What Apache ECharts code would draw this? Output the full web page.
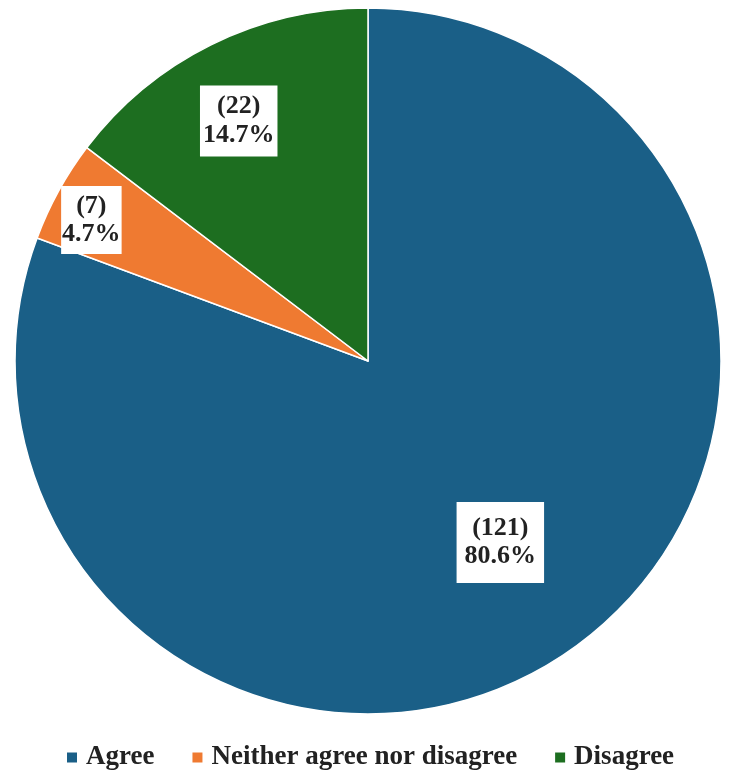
<!DOCTYPE html>
<html>
<head>
<meta charset="utf-8">
<script src="https://cdn.jsdelivr.net/npm/echarts@6/dist/echarts.min.js"></script>
<style>
html,body{margin:0;padding:0;background:#fff;}
#main{width:734px;height:774px;}
</style>
</head>
<body>
<div id="main"></div>
<script>
const categories = ['Agree', 'Neither agree nor disagree', 'Disagree'];
const counts = [121, 7, 22];
const percentLabels = ['80.6%', '4.7%', '14.7%'];
const colors = ['#1a5f87', '#ef7a31', '#1d6e20'];
const labelRadiusFrac = [0.628, 0.871, 0.764];
const labelAngleShift = [-1.3, -1.82, -1.92];
const labelPadding = [[13, 8, 12, 8], [12, 1, 0, 1], [13, 3, 0, 3]];
const labelLineHeight = [28, 28, 29];

const total = counts.reduce((a, b) => a + b, 0);
const midAngles = [];
let acc = 0;
counts.forEach(v => { const a = v / total * 360; midAngles.push(acc + a / 2); acc += a; });

const R = 353;
const chart = echarts.init(document.getElementById('main'), null, {renderer: 'canvas'});
chart.setOption({
  animation: false,
  color: colors,
  legend: {
    top: 739,
    left: 60,
    icon: 'rect',
    itemWidth: 12,
    itemHeight: 12,
    itemGap: 36,
    textStyle: {
      fontFamily: 'Liberation Serif',
      fontWeight: 'bold',
      fontSize: 27,
      color: '#222',
      padding: [0, 0, 0, 3]
    },
    data: categories
  },
  series: [{
    type: 'pie',
    center: [368, 361],
    radius: [0, R],
    startAngle: 90,
    clockwise: true,
    itemStyle: { borderColor: '#fff', borderWidth: 1.5 },
    label: {
      show: true,
      position: 'inside',
      fontFamily: 'Liberation Serif',
      fontWeight: 'bold',
      fontSize: 26,
      color: '#222',
      backgroundColor: '#fff',
      formatter: p => '(' + counts[p.dataIndex] + ')\n' + percentLabels[p.dataIndex]
    },
    labelLine: { show: false },
    labelLayout: function (params) {
      const i = params.dataIndex;
      const base = midAngles[i] * Math.PI / 180;
      const th = (midAngles[i] + labelAngleShift[i]) * Math.PI / 180;
      const h = 0.5 * R, d = labelRadiusFrac[i] * R;
      return {
        dx: d * Math.sin(th) - h * Math.sin(base),
        dy: -d * Math.cos(th) + h * Math.cos(base)
      };
    },
    data: categories.map((c, i) => ({
      name: c,
      value: counts[i],
      label: { padding: labelPadding[i], lineHeight: labelLineHeight[i] }
    }))
  }]
});
</script>
</body>
</html>
